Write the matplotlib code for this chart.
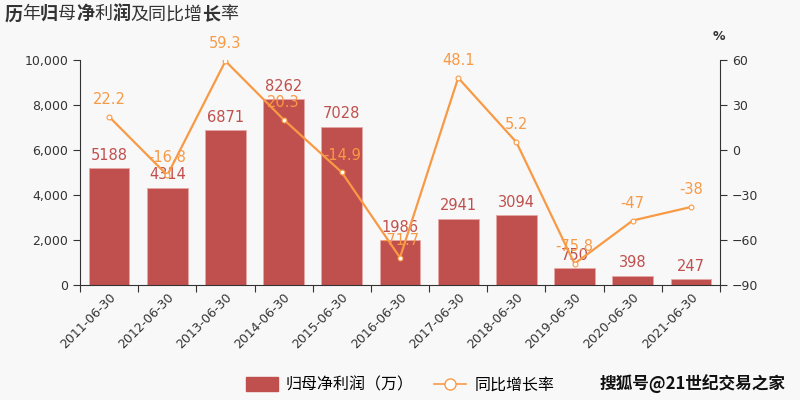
import matplotlib
matplotlib.use('Agg')
import matplotlib.pyplot as plt
from matplotlib.offsetbox import TextArea, HPacker, AnchoredOffsetbox
from matplotlib.lines import Line2D
from matplotlib.patches import Patch

plt.rcParams['font.family'] = ['DejaVu Sans', 'Noto Sans CJK SC']

dates = ['2011-06-30', '2012-06-30', '2013-06-30', '2014-06-30', '2015-06-30', '2016-06-30',
         '2017-06-30', '2018-06-30', '2019-06-30', '2020-06-30', '2021-06-30']
profit = [5188, 4314, 6871, 8262, 7028, 1986, 2941, 3094, 750, 398, 247]
growth = [22.2, -16.8, 59.3, 20.3, -14.9, -71.7, 48.1, 5.2, -75.8, -47, -38]

BAR = '#c0504d'
LINE = '#f89a45'
BG = '#f8f8f8'
TXT = '#333333'

fig = plt.figure(figsize=(8, 4), dpi=100, facecolor=BG)
ax = fig.add_axes([0.1, 0.2875, 0.8, 0.5625], facecolor=BG)
ax2 = ax.twinx()

x = list(range(len(dates)))
ax.bar(x, profit, width=0.7, color=BAR, edgecolor='#e8a8a6', linewidth=0.6)
for xi, v in zip(x, profit):
    ax.annotate(str(v), (xi, v), xytext=(0, 4), textcoords='offset points',
                ha='center', va='bottom', color=BAR, fontsize=10.5)

ax2.plot(x, growth, color=LINE, lw=1.6, marker='o', ms=3.5,
         markerfacecolor='white', markeredgecolor=LINE, markeredgewidth=0.8)
for xi, v in zip(x, growth):
    ax2.annotate('%g' % v, (xi, v), xytext=(0, 7), textcoords='offset points',
                 ha='center', va='bottom', color=LINE, fontsize=10.5)

ax.set_xlim(-0.5, len(dates) - 0.5)
ax.set_ylim(0, 10000)
ax.set_yticks(range(0, 10001, 2000))
ax.set_yticklabels(['{:,}'.format(t) for t in range(0, 10001, 2000)])
ax2.set_ylim(-90, 60)
ax2.set_yticks(range(-90, 61, 30))

ax.set_xticks([i - 0.5 for i in range(len(dates) + 1)], minor=False)
ax.set_xticklabels([])
ax.set_xticks(x, minor=True)
ax.set_xticklabels(dates, minor=True, rotation=45, ha='right', rotation_mode='anchor',
                   fontsize=9, color=TXT)
ax.tick_params(axis='x', which='minor', length=0, pad=4)
ax.tick_params(axis='x', which='major', length=5, color=TXT)

for a in (ax, ax2):
    a.spines['top'].set_visible(False)
    a.tick_params(axis='y', labelsize=9, labelcolor=TXT, color=TXT, length=5)
ax.spines['right'].set_visible(False)
ax2.spines['left'].set_visible(False)
ax2.spines['bottom'].set_visible(False)
for s in ('left', 'bottom'):
    ax.spines[s].set_color(TXT)
ax2.spines['right'].set_color(TXT)

fig.text(0.898, 0.9, '%', fontsize=9, color=TXT, ha='center', fontweight='bold')

# title with mixed weights
title_chars = [('历', 'bold'), ('年', 'normal'), ('归', 'bold'), ('母', 'normal'),
               ('净', 'bold'), ('利', 'normal'), ('润', 'bold'), ('及同比增', 'normal'),
               ('长', 'bold'), ('率', 'normal')]
parts = [TextArea(t, textprops=dict(fontsize=13, fontweight=w, color=TXT,
                                   family=['Noto Sans CJK SC']))
         for t, w in title_chars]
box = HPacker(children=parts, align='baseline', pad=0, sep=0)
anchored = AnchoredOffsetbox(loc='upper left', child=box, frameon=False,
                             bbox_to_anchor=(0.0, 1.0), bbox_transform=fig.transFigure,
                             borderpad=0.2, pad=0.1)
fig.add_artist(anchored)

handles = [Patch(facecolor=BAR, edgecolor=BAR),
           Line2D([0], [0], color=LINE, lw=1.2, marker='o', ms=8,
                  markerfacecolor='white', markeredgecolor=LINE)]
fig.legend(handles, ['归母净利润（万）', '同比增长率'], loc='lower center',
           bbox_to_anchor=(0.5, -0.02), ncol=2, frameon=False,
           handlelength=2.0, handleheight=0.9, handletextpad=0.5, columnspacing=1.3,
           prop={'family': ['Noto Sans CJK SC'], 'size': 11.5})

fig.text(0.982, 0.04, '搜狐号@21世纪交易之家', ha='right', va='center', fontsize=12,
         family=['Noto Sans CJK SC'], fontweight='bold', color='#111111')

fig.savefig('out.png', dpi=100, facecolor=BG)
